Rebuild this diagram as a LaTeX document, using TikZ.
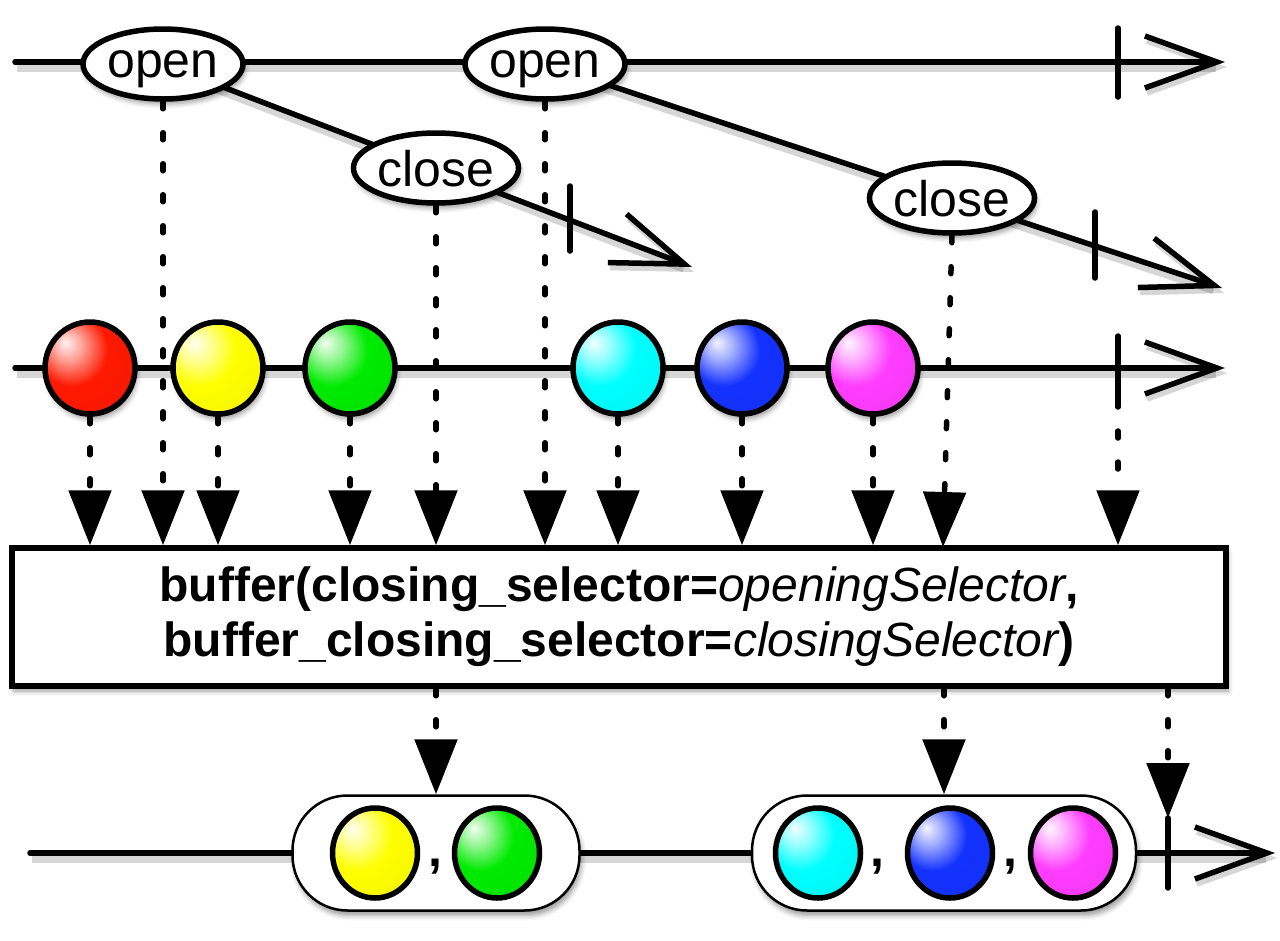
\documentclass[tikz,border=0pt]{standalone}
\usepackage{fontspec}
\setmainfont{Liberation Sans}
\usetikzlibrary{arrows.meta,shapes.geometric,shadows.blur}
\pgfdeclarelayer{bg}
\pgfsetlayers{bg,main}
\definecolor{cgreen}{RGB}{0,235,0}
\definecolor{cblue}{RGB}{20,50,255}
\definecolor{cmag}{RGB}{255,60,255}
\definecolor{cred}{RGB}{255,25,0}
\definecolor{cyel}{RGB}{255,255,0}
\definecolor{ccyan}{RGB}{0,255,255}
\colorlet{ballc}{red}
\pgfdeclareradialshading[ballc]{glossball}{\pgfqpoint{-14bp}{14bp}}{%
  color(0bp)=(ballc!5!white);
  color(8bp)=(ballc!40!white);
  color(20bp)=(ballc);
  color(38bp)=(ballc!96!black);
  color(56bp)=(ballc!70!black);
  color(72bp)=(ballc!55!black)}
\begin{document}
\begin{tikzpicture}[x=1pt,y=-1pt,
  shd/.style={blur shadow={shadow xshift=2pt,shadow yshift=-5pt,shadow blur radius=5pt,shadow opacity=40}},
  lshd/.style={preaction={draw=black,opacity=0.16,line width=9pt,transform canvas={shift={(2pt,-5pt)}}}},
  evt/.style={ellipse,draw,line width=5.5pt,fill=white,minimum width=160pt,minimum height=70pt,inner sep=0pt,text depth=0pt,font=\fontsize{50}{50}\selectfont,shd},
  gball/.style={/utils/exec={\colorlet{ballc}{#1}},shading=glossball},
  ballnode/.style={ellipse,draw,line width=5.5pt,minimum width=90pt,minimum height=92pt,inner sep=0pt,gball=#1,shd},
  sball/.style={ellipse,draw,line width=5.5pt,minimum width=85pt,minimum height=90pt,inner sep=0pt,gball=#1},
  axisline/.style={line width=5.5pt,line cap=round,lshd,-{Straight Barb[length=72pt,width=52pt,line width=5.5pt]}},
  tickline/.style={line width=5.5pt,line cap=round},
  dotline/.style={line width=5.5pt,line cap=round,dash pattern=on 7pt off 24pt,-{Triangle[length=55pt,width=42pt]}},
  grp/.style={rectangle,draw,line width=2.5pt,fill=white,rounded corners=55pt,minimum height=115pt,inner sep=0pt,shd},
  comma/.style={font=\fontsize{50}{50}\selectfont\bfseries,inner sep=0pt,anchor=base}
]
\useasboundingbox (0,0) rectangle (1280,940);

% top: open / close events
\node[evt] (o1) at (163,64) {open};
\node[evt] (o2) at (545,64) {open};
\node[evt] (c1) at (436,168) {close};
\node[evt] (c2) at (952,198) {close};

\coordinate (t0) at (15,62);
\coordinate (t1) at (1225,62);
\coordinate (c1e) at (692,267);
\coordinate (c2e) at (1222,288);
\coordinate (tk1a) at (1118,28); \coordinate (tk1b) at (1118,97);
\coordinate (tk2a) at (570,186); \coordinate (tk2b) at (570,251);
\coordinate (tk3a) at (1095,212); \coordinate (tk3b) at (1095,278);

% middle line balls
\node[ballnode=cred] (b1) at (90,368) {};
\node[ballnode=cyel] (b2) at (218,368) {};
\node[ballnode=cgreen] (b3) at (350,368) {};
\node[ballnode=ccyan] (b4) at (618,368) {};
\node[ballnode=cblue] (b5) at (742,368) {};
\node[ballnode=cmag] (b6) at (873,368) {};
\coordinate (m0) at (15,368);
\coordinate (m1) at (1225,368);
\coordinate (tk4a) at (1118,336); \coordinate (tk4b) at (1118,400);

% operator box
\node[draw,line width=5.5pt,fill=white,minimum width=1214pt,minimum height=138pt,align=center,
  font=\fontsize{48}{55}\selectfont,shd] (box) at (619,617)
  {{\bfseries buffer(closing\_selector=}{\itshape openingSelector}{\bfseries ,}\\
   {\bfseries buffer\_closing\_selector=}{\itshape closingSelector}{\bfseries )}};

% bottom line groups
\node[grp,minimum width=287pt] (g1) at (436,853) {};
\node[grp,minimum width=384pt] (g2) at (944,853) {};
\node[sball=cyel] (y1) at (375,853) {};
\node[sball=cgreen] (y2) at (497,853) {};
\node[comma] (k1) at (435,866) {,};
\node[sball=ccyan] (y3) at (818,853) {};
\node[sball=cblue] (y4) at (950,853) {};
\node[sball=cmag] (y5) at (1073,853) {};
\node[comma] (k2) at (877,866) {,};
\node[comma] (k3) at (1010,866) {,};
\coordinate (n0) at (30,853);
\coordinate (n1) at (1275,853);
\coordinate (tk5a) at (1168,818); \coordinate (tk5b) at (1168,888);
\coordinate (a9) at (943,547);

\begin{pgfonlayer}{bg}
  \draw[axisline] (t0) -- (t1);
  \draw[axisline] (o1.center) -- (c1e);
  \draw[axisline] (o2.center) -- (c2e);
  \draw[axisline] (m0) -- (m1);
  \draw[axisline] (n0) -- (n1);
\end{pgfonlayer}

\draw[tickline] (tk1a) -- (tk1b);
\draw[tickline] (tk2a) -- (tk2b);
\draw[tickline] (tk3a) -- (tk3b);
\draw[tickline] (tk4a) -- (tk4b);
\draw[tickline] (tk5a) -- (tk5b);

% dotted connectors into the operator
\draw[dotline] (b1.south) -- (b1.south |- box.north);
\draw[dotline] (o1.south) -- (o1.south |- box.north);
\draw[dotline] (b2.south) -- (b2.south |- box.north);
\draw[dotline] (b3.south) -- (b3.south |- box.north);
\draw[dotline] (c1.south) -- (c1.south |- box.north);
\draw[dotline] (o2.south) -- (o2.south |- box.north);
\draw[dotline] (b4.south) -- (b4.south |- box.north);
\draw[dotline] (b5.south) -- (b5.south |- box.north);
\draw[dotline] (b6.south) -- (b6.south |- box.north);
\draw[dotline] (c2.south) -- (a9);
\draw[dotline] (tk4b) -- (tk4b |- box.north);

% dotted connectors out of the operator
\draw[dotline] (box.south -| g1.north) -- (g1.north);
\draw[dotline] (box.south -| g2.north) -- (g2.north);
\draw[dotline] (box.south -| tk5a) -- (tk5a);
\end{tikzpicture}
\end{document}
